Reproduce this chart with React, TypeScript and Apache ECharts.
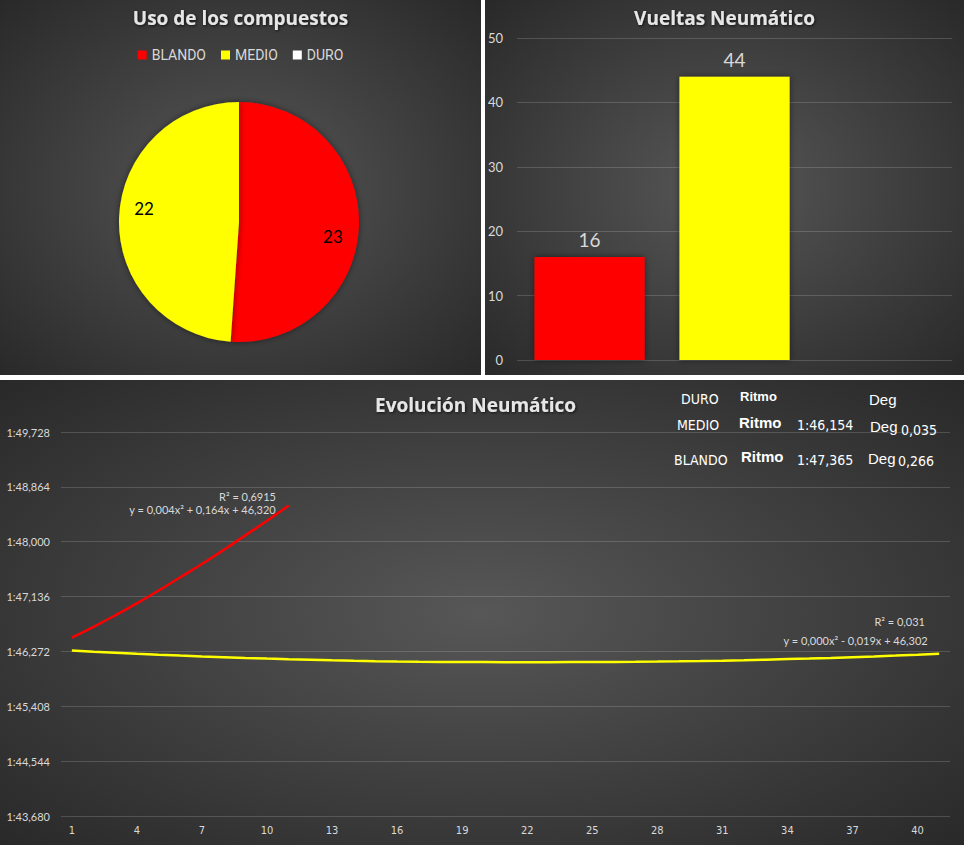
import React, { useEffect, useRef } from 'react';
import * as echarts from 'echarts';

// ---------- data ----------
const COMPOUNDS = ['BLANDO', 'MEDIO', 'DURO'];
const COMPOUND_COLORS = ['#FF0000', '#FFFF00', '#FFFFFF'];
const PIE_VALUES = [23, 22, 0];
const BAR_VALUES: (number | null)[] = [16, 44, null];

const LAPS = ['1', '2', '3', '4', '5', '6', '7', '8', '9', '10', '11', '12', '13', '14', '15', '16', '17', '18', '19', '20', '21', '22', '23', '24', '25', '26', '27', '28', '29', '30', '31', '32', '33', '34', '35', '36', '37', '38', '39', '40', '41'];

// seconds past 1 minute
const BLANDO_TREND = [46.49, 46.66, 46.84, 47.03, 47.23, 47.44, 47.65, 47.87, 48.10, 48.33, 48.57];
const MEDIO_TREND = [
  46.286, 46.268, 46.252, 46.236, 46.221, 46.207, 46.194, 46.182, 46.170, 46.159,
  46.149, 46.140, 46.132, 46.125, 46.119, 46.114, 46.110, 46.107, 46.105, 46.104,
  46.103, 46.103, 46.103, 46.104, 46.105, 46.107, 46.109, 46.112, 46.116, 46.121,
  46.127, 46.134, 46.142, 46.151, 46.160, 46.170, 46.181, 46.193, 46.206, 46.220,
  46.236,
];

const Y_BASE = 43.68;
const Y_STEP = 0.864;
const Y_TICK_LABELS = ['1:43,680', '1:44,544', '1:45,408', '1:46,272', '1:47,136', '1:48,000', '1:48,864', '1:49,728'];

const BLANDO_TREND_TEXT = ['R² = 0,6915', 'y = 0,004x² + 0,164x + 46,320'];
const MEDIO_TREND_TEXT = ['R² = 0,031', 'y = 0,000x² - 0,019x + 46,302'];

const STATS_ROWS = ['DURO', 'MEDIO', 'BLANDO'];
const STATS_RITMO = ['', '1:46,154', '1:47,365'];
const STATS_DEG = ['', '0,035', '0,266'];

// ---------- styles ----------
const TXT = '#d9d9d9';
const GRID = 'rgba(255,255,255,0.16)';
const PIE_LABEL_OFFSETS = [[-5, 11], [4, -10], [0, 0]];
const bg = () =>
  new echarts.graphic.RadialGradient(0.5, 0.5, 0.72, [
    { offset: 0, color: '#575757' },
    { offset: 1, color: '#282828' },
  ]);
const titleStyle = {
  color: '#e6e6e6',
  fontFamily: 'Open Sans',
  fontWeight: 'bold' as const,
  fontSize: 19,
  textShadowColor: 'rgba(0,0,0,0.7)',
  textShadowBlur: 3,
  textShadowOffsetX: 1,
  textShadowOffsetY: 1,
};

function Chart({ option, style }: { option: any; style: React.CSSProperties }) {
  const ref = useRef<HTMLDivElement>(null);
  useEffect(() => {
    const chart = echarts.init(ref.current!, null, { renderer: 'svg' });
    chart.setOption(option);
    return () => chart.dispose();
  }, []);
  return <div ref={ref} style={{ position: 'absolute', ...style }} />;
}

const pieOption = {
  animation: false,
  backgroundColor: bg(),
  title: { text: 'Uso de los compuestos', left: 'center', top: 3, textStyle: titleStyle },
  legend: {
    top: 43,
    left: 'center',
    icon: 'rect',
    itemWidth: 9,
    itemHeight: 9,
    itemGap: 15,
    textStyle: { color: TXT, fontFamily: 'Roboto', fontSize: 14 },
    data: COMPOUNDS,
  },
  series: [
    {
      type: 'pie',
      center: [239, 222],
      radius: [0, 120],
      startAngle: 90,
      clockwise: true,
      label: { show: false },
      labelLine: { show: false },
      silent: true,
      itemStyle: { shadowBlur: 6, shadowColor: 'rgba(0,0,0,0.5)' },
      data: COMPOUNDS.map((n, i) => ({ name: n, value: PIE_VALUES[i], itemStyle: { color: COMPOUND_COLORS[i] } })),
    },
    {
      type: 'pie',
      center: [239, 222],
      radius: [72, 120],
      startAngle: 90,
      clockwise: true,
      silent: true,
      legendHoverLink: false,
      itemStyle: { color: 'rgba(0,0,0,0)' },
      label: { show: true, position: 'inside', formatter: '{c}', color: '#000', fontFamily: 'Lato', fontSize: 17 },
      labelLine: { show: false },
      data: COMPOUNDS.map((n, i) => ({
        name: n,
        value: PIE_VALUES[i],
        label: { show: PIE_VALUES[i] > 0, offset: PIE_LABEL_OFFSETS[i] },
        itemStyle: { color: 'rgba(0,0,0,0)' },
      })),
    },
  ],
};

const barOption = {
  animation: false,
  backgroundColor: bg(),
  title: { text: 'Vueltas Neumático', left: 'center', top: 3, textStyle: titleStyle },
  grid: { left: 32, right: 12, top: 38, bottom: 15 },
  xAxis: {
    type: 'category',
    data: COMPOUNDS,
    axisLine: { show: false },
    axisTick: { show: false },
    axisLabel: { show: false },
  },
  yAxis: {
    type: 'value',
    min: 0,
    max: 50,
    interval: 10,
    axisLabel: { color: TXT, fontFamily: 'Lato', fontSize: 13, margin: 14 },
    splitLine: { lineStyle: { color: GRID } },
  },
  series: [
    {
      type: 'bar',
      barCategoryGap: '24%',
      data: BAR_VALUES.map((v, i) => ({ value: v, itemStyle: { color: COMPOUND_COLORS[i] } })),
      itemStyle: { shadowBlur: 6, shadowColor: 'rgba(0,0,0,0.5)' },
      label: { show: true, position: 'top', distance: 8, color: TXT, fontFamily: 'Lato', fontSize: 19 },
    },
  ],
};

const toAxis = (v: number) => +((v - Y_BASE) / Y_STEP).toFixed(5);
const narrow = 'Liberation Sans Narrow, Arial Narrow, DejaVu Sans Condensed, sans-serif';

const statTexts: any[] = [];
STATS_ROWS.forEach((row, i) => {
  const ys = [20, 46, 81][i];
  const rx = [681, 677, 674][i];
  statTexts.push({ type: 'text', left: rx, top: ys - 8, style: { text: row, fill: '#ffffff', font: `14px ${narrow}` } });
  statTexts.push({
    type: 'text',
    left: [740, 739, 741][i],
    top: [18, 43, 77][i] - 8,
    style: { text: 'Ritmo', fill: '#ffffff', font: `bold ${i === 0 ? 13 : 15}px Liberation Sans` },
  });
  if (STATS_RITMO[i]) {
    statTexts.push({ type: 'text', left: 797, top: ys - 8, style: { text: STATS_RITMO[i], fill: '#ffffff', font: `14px ${narrow}` } });
  }
  statTexts.push({
    type: 'text',
    left: [869, 870, 868][i],
    top: [21, 48, 80][i] - 9,
    style: { text: 'Deg', fill: '#ffffff', font: '15px Liberation Sans' },
  });
  if (STATS_DEG[i]) {
    statTexts.push({ type: 'text', left: [0, 901, 898][i], top: [0, 51, 82][i] - 8, style: { text: STATS_DEG[i], fill: '#ffffff', font: `14px ${narrow}` } });
  }
});

const trendTexts = [
  { type: 'text', right: 964 - 276, top: 111, style: { text: BLANDO_TREND_TEXT[0], fill: TXT, font: '11px Lato', align: 'right' } },
  { type: 'text', right: 964 - 276, top: 124, style: { text: BLANDO_TREND_TEXT[1], fill: TXT, font: '11px Lato', align: 'right' } },
  { type: 'text', right: 964 - 925, top: 236, style: { text: MEDIO_TREND_TEXT[0], fill: TXT, font: '11px Lato', align: 'right' } },
  { type: 'text', right: 964 - 928, top: 255, style: { text: MEDIO_TREND_TEXT[1], fill: TXT, font: '11px Lato', align: 'right' } },
];

const lineOption = {
  animation: false,
  backgroundColor: bg(),
  title: { text: 'Evolución Neumático', left: 370, top: 10, textStyle: titleStyle },
  grid: { left: 61, right: 14, top: 52, bottom: 29 },
  xAxis: {
    type: 'category',
    data: LAPS,
    boundaryGap: true,
    axisLine: { show: false },
    axisTick: { show: false },
    axisLabel: { interval: 2, color: TXT, fontFamily: narrow, fontSize: 11, margin: 9 },
  },
  yAxis: {
    type: 'value',
    min: 0,
    max: 7,
    interval: 1,
    axisLabel: {
      color: TXT,
      fontFamily: 'Lato',
      fontSize: 11,
      margin: 11,
      formatter: (v: number) => Y_TICK_LABELS[Math.round(v)] ?? '',
    },
    splitLine: { lineStyle: { color: GRID } },
  },
  series: [
    {
      name: 'MEDIO',
      type: 'line',
      data: MEDIO_TREND.map(toAxis),
      showSymbol: false,
      smooth: false,
      lineStyle: { color: '#FFFF00', width: 2.5 },
      silent: true,
    },
    {
      name: 'BLANDO',
      type: 'line',
      data: BLANDO_TREND.map(toAxis),
      showSymbol: false,
      smooth: true,
      lineStyle: { color: '#FF0000', width: 2.5 },
      silent: true,
    },
  ],
  graphic: [...trendTexts, ...statTexts],
};

export default function App() {
  return (
    <div style={{ position: 'fixed', left: 0, top: 0, width: 964, height: 845, background: '#ffffff', overflow: 'hidden' }}>
      <Chart option={pieOption} style={{ left: 0, top: 0, width: 481, height: 375 }} />
      <Chart option={barOption} style={{ left: 485, top: 0, width: 479, height: 375 }} />
      <Chart option={lineOption} style={{ left: 0, top: 380, width: 964, height: 465 }} />
    </div>
  );
}
